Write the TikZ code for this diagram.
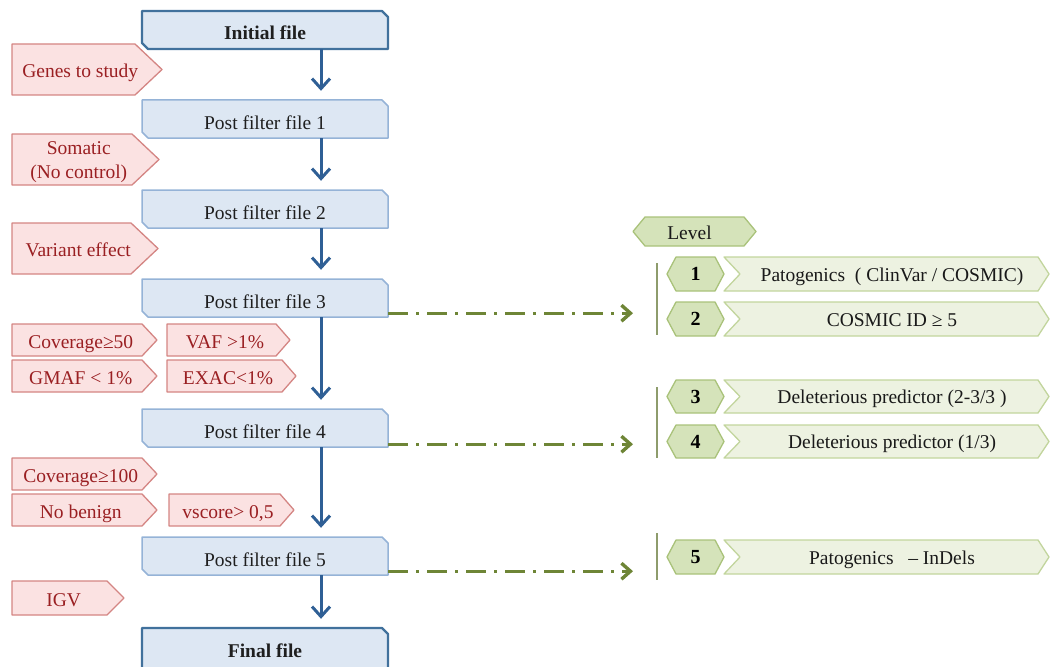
\documentclass[tikz,border=0pt]{standalone}
\usepackage{fontspec}
\setmainfont{Liberation Serif}
\usetikzlibrary{arrows.meta}
\definecolor{bfill}{HTML}{DDE7F3}
\definecolor{bline}{HTML}{95B3D7}
\definecolor{bdark}{HTML}{41719C}
\definecolor{barrowc}{HTML}{2F5F95}
\definecolor{rfill}{HTML}{FBE2E2}
\definecolor{rline}{HTML}{D48583}
\definecolor{rtextc}{HTML}{9A1F22}
\definecolor{gfill}{HTML}{D5E3BA}
\definecolor{gline}{HTML}{A9C27A}
\definecolor{cfill}{HTML}{EDF2E1}
\definecolor{cline}{HTML}{C2D59D}
\definecolor{gdash}{HTML}{6E8536}
\definecolor{vline}{HTML}{8E9C6C}
\tikzset{
  bshape/.style={fill=bfill,draw=bline,line width=1.5pt,line join=round},
  bshapebold/.style={fill=bfill,draw=bdark,line width=2.4pt,line join=round},
  btext/.style={inner sep=0pt,text=black!88,text height=20pt,text depth=0pt,font=\fontsize{19.5}{22}\selectfont},
  rshape/.style={fill=rfill,draw=rline,line width=1.3pt,line join=round},
  rtext/.style={inner sep=0pt,text=rtextc,text height=17pt,text depth=1pt,font=\fontsize{19.5}{22}\selectfont},
  rtwo/.style={inner sep=0pt,text=rtextc,align=center,yshift=-3pt,font=\fontsize{19.5}{24}\selectfont},
  gshape/.style={fill=gfill,draw=gline,line width=1.3pt,line join=round},
  cshape/.style={fill=cfill,draw=cline,line width=1.3pt,line join=round},
  gtext/.style={inner sep=0pt,text=black!90,text height=17pt,text depth=3pt,font=\fontsize{19.5}{22}\selectfont},
  ltext/.style={inner sep=0pt,text=black!90,text height=17pt,text depth=1pt,xshift=-5pt,font=\fontsize{19.5}{22}\selectfont},
  numtext/.style={inner sep=0pt,text=black,font=\fontsize{20}{22}\selectfont\bfseries},
  barrow/.style={draw=barrowc,line width=3pt,shorten >=9pt,-{Straight Barb[length=10pt,width=18pt,line width=3pt]}},
  garrow/.style={draw=gdash,line width=3pt,dash pattern=on 20pt off 8pt on 3pt off 8pt,-{Straight Barb[length=9pt,width=16pt,line width=3.4pt]}},
  vrule/.style={draw=vline,line width=1.4pt}
}
% name, left, right, top, bottom, shape style, text
\newcommand\mkblue[7]{%
  \path[#6] (#2,#4) -- ({#3-6},#4) -- (#3,{#4+6}) -- (#3,#5) -- ({#2+6},#5) -- (#2,{#5-6}) -- cycle;
  \node[btext,minimum width={#3-#2},minimum height={#5-#4}] (#1) at ({(#2+#3)/2},{(#4+#5)/2}) {#7};}
% name, left, tip, top, bottom, depth, text style, text
\newcommand\mkred[8]{%
  \path[rshape] (#2,#4) -- ({#3-#6},#4) -- (#3,{(#4+#5)/2}) -- ({#3-#6},#5) -- (#2,#5) -- cycle;
  \node[#7,minimum width={#3-#6/2-#2},minimum height={#5-#4}] (#1) at ({(#2+#3-#6/2)/2},{(#4+#5)/2}) {#8};}
% name, left, right, top, bottom, depth, text style, text
\newcommand\mkhex[8]{%
  \path[gshape] ({#2+#6},#4) -- ({#3-#6},#4) -- (#3,{(#4+#5)/2}) -- ({#3-#6},#5) -- ({#2+#6},#5) -- (#2,{(#4+#5)/2}) -- cycle;
  \node[#7,minimum width={#3-#2-2*#6},minimum height={#5-#4}] (#1) at ({(#2+#3)/2},{(#4+#5)/2}) {#8};}
% name, left, right, top, bottom, text
\newcommand\mkchev[6]{%
  \path[cshape] (#2,#4) -- ({#3-11},#4) -- (#3,{(#4+#5)/2}) -- ({#3-11},#5) -- (#2,#5) -- ({#2+16},{(#4+#5)/2}) -- cycle;
  \node[gtext,minimum width={#3-#2-27},minimum height={#5-#4}] (#1) at ({(#2+16+#3-11)/2+3},{(#4+#5)/2}) {#6};}
\begin{document}
\begin{tikzpicture}[x=1pt,y=-1pt]
\useasboundingbox (0,0) rectangle (1051,666);
% main flow
\mkblue{init}{142}{388}{11}{49}{bshapebold}{\bfseries Initial file}
\mkblue{p1}{142}{388}{100}{138}{bshape}{Post filter file 1}
\mkblue{p2}{142}{388}{190}{228}{bshape}{Post filter file 2}
\mkblue{p3}{142}{388}{279}{317}{bshape}{Post filter file 3}
\mkblue{p4}{142}{388}{409}{447}{bshape}{Post filter file 4}
\mkblue{p5}{142}{388}{537}{575}{bshape}{Post filter file 5}
\path[bshapebold] (142,628) -- (382,628) -- (388,634) -- (388,672) -- (142,672) -- cycle;
\node[btext,minimum width=246,minimum height=38] (final) at (265,647) {\bfseries Final file};
% filters
\mkred{genes}{12}{162}{44}{95}{27}{rtext}{Genes to study}
\mkred{somatic}{12}{159}{134}{185}{27}{rtwo}{Somatic\\(No control)}
\mkred{variant}{12}{158}{223}{274}{27}{rtext}{Variant effect}
\mkred{cov50}{12}{157}{324}{356}{15}{rtext}{Coverage≥50}
\mkred{vaf}{167}{290}{324}{356}{14}{rtext}{VAF >1\%}
\mkred{gmaf}{12}{157}{360}{392}{15}{rtext}{GMAF < 1\%}
\mkred{exac}{167}{296}{360}{392}{14}{rtext}{EXAC<1\%}
\mkred{cov100}{12}{157}{458}{490}{15}{rtext}{Coverage≥100}
\mkred{nobenign}{12}{157}{494}{526}{15}{rtext}{No benign}
\mkred{vscore}{169}{294}{494}{526}{14}{rtext}{vscore> 0,5}
\mkred{igv}{12}{124}{581}{615}{17}{rtext}{IGV}
% arrows
\coordinate (ax) at (321,0);
\draw[barrow] (init.south -| ax) -- (p1.north -| ax);
\draw[barrow] (p1.south -| ax) -- (p2.north -| ax);
\draw[barrow] (p2.south -| ax) -- (p3.north -| ax);
\draw[barrow] (p3.south -| ax) -- (p4.north -| ax);
\draw[barrow] (p4.south -| ax) -- (p5.north -| ax);
\draw[barrow] (p5.south -| ax) -- (final.north -| ax);
% levels
\mkhex{level}{633}{756}{217}{246}{12}{ltext}{Level}
\mkhex{n1}{667}{724}{257}{291}{9}{numtext}{1}
\mkhex{n2}{667}{724}{302}{336}{9}{numtext}{2}
\mkhex{n3}{667}{724}{380}{413}{9}{numtext}{3}
\mkhex{n4}{667}{724}{425}{458}{9}{numtext}{4}
\mkhex{n5}{667}{724}{540}{574}{9}{numtext}{5}
\mkchev{l1}{724}{1049}{257}{291}{Patogenics~ ( ClinVar / COSMIC)}
\mkchev{l2}{724}{1049}{302}{336}{COSMIC ID ≥ 5}
\mkchev{l3}{724}{1049}{380}{413}{Deleterious predictor (2-3/3 )}
\mkchev{l4}{724}{1049}{425}{458}{Deleterious predictor (1/3)}
\mkchev{l5}{724}{1049}{540}{574}{Patogenics~~ – InDels}
% vertical rules
\coordinate (va1) at (657,263); \coordinate (vb1) at (657,335);
\coordinate (va2) at (657,387); \coordinate (vb2) at (657,458);
\coordinate (va3) at (657,533); \coordinate (vb3) at (657,580);
\draw[vrule] (va1) -- (vb1);
\draw[vrule] (va2) -- (vb2);
\draw[vrule] (va3) -- (vb3);
% dash-dot links
\coordinate (tx) at (633,0);
\coordinate (s3) at ([yshift=4pt]p3.south east);
\coordinate (s4) at ([yshift=3pt]p4.south east);
\coordinate (s5) at ([yshift=4pt]p5.south east);
\coordinate (e3) at (s3 -| tx);
\coordinate (e4) at (s4 -| tx);
\coordinate (e5) at (s5 -| tx);
\draw[garrow] (s3) -- (e3);
\draw[garrow] (s4) -- (e4);
\draw[garrow] (s5) -- (e5);
\end{tikzpicture}
\end{document}
